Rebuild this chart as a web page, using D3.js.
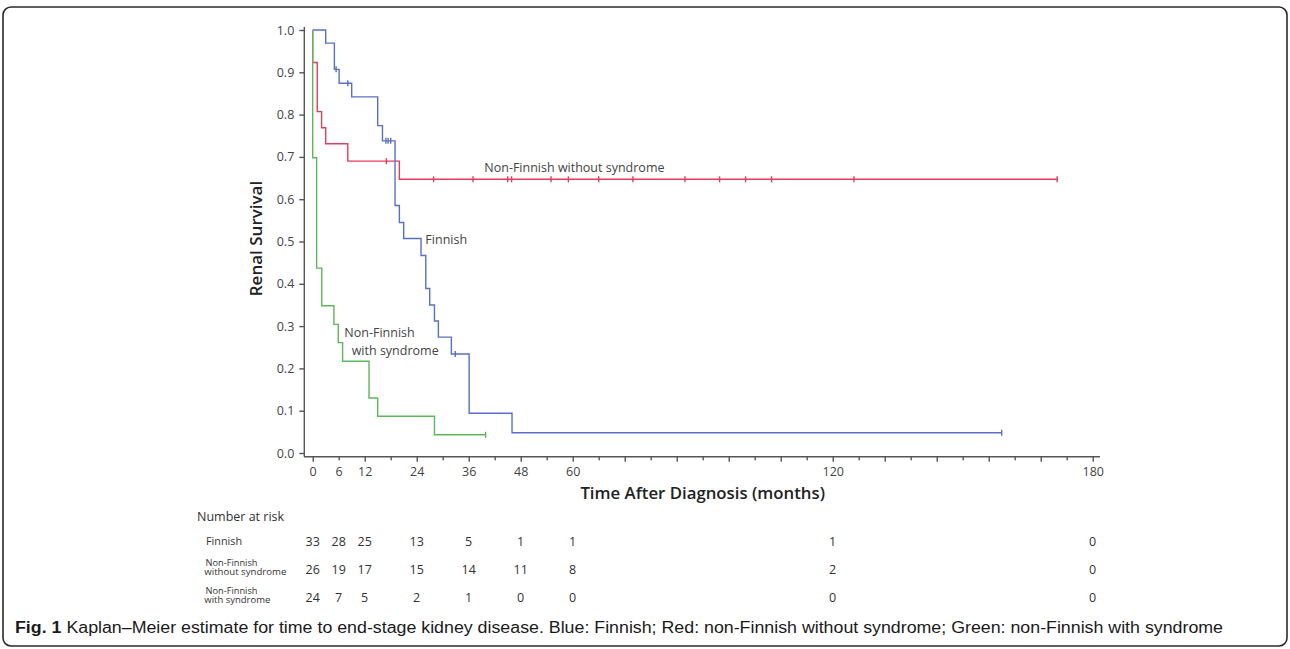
<!DOCTYPE html>
<html>
<head>
<meta charset="utf-8">
<script src="https://cdn.jsdelivr.net/npm/d3@7"></script>
<style>
  body { margin: 0; background: #fff; }
  svg { display: block; font-family: "Open Sans", sans-serif; }
</style>
</head>
<body>
<div id="chart"></div>
<script>
// ---------------------------------------------------------
// DATA
// ---------------------------------------------------------

// Finnish (blue): event times (months) and survival after each step
var finnishTimes = [3, 5, 6.1, 9, 15, 16.1, 19, 20, 21, 25, 26.1, 27, 28.1, 29, 32, 36.1, 46];
var finnishSurv = [0.969, 0.907, 0.874, 0.842, 0.774, 0.738, 0.585, 0.545, 0.507, 0.467, 0.389, 0.350, 0.312, 0.274, 0.234, 0.094, 0.048];
var finnishCensor = [5.4, 8.1, 16.9, 17.4, 18.0, 32.9, 159];
var finnishEnd = 159;

// Non-Finnish without syndrome (red)
var noSynTimes = [0, 1.05, 2.05, 3, 8.1, 20];
var noSynSurv = [0.923, 0.807, 0.769, 0.731, 0.690, 0.647];
var noSynCensor = [17, 27.9, 37, 45, 45.9, 55, 59, 66, 73.9, 85.9, 93.9, 99.9, 105.9, 124.9, 171.8];
var noSynEnd = 171.8;

// Non-Finnish with syndrome (green)
var synTimes = [0, 0.9, 2.1, 4.9, 5.9, 6.9, 13, 15, 28.1];
var synSurv = [0.698, 0.437, 0.348, 0.304, 0.261, 0.217, 0.130, 0.087, 0.043];
var synCensor = [39.9];
var synEnd = 39.9;

// axis ticks
var xTickValues = d3.range(0, 181, 6);
var xTickLabels = [0, 6, 12, 24, 36, 48, 60, 120, 180];
var yTickValues = d3.range(0, 11).map(d => d / 10);

// number at risk table
var riskTimes = [0, 6, 12, 24, 36, 48, 60, 120, 180];
var riskFinnish = [33, 28, 25, 13, 5, 1, 1, 1, 0];
var riskNoSyn = [26, 19, 17, 15, 14, 11, 8, 2, 0];
var riskSyn = [24, 7, 5, 2, 1, 0, 0, 0, 0];

// ---------------------------------------------------------
// SET UP PARAMETERS
// ---------------------------------------------------------

var svgWidth = 1290;
var svgHeight = 649;

var colors = {
  finnish: "#5a70c8",
  noSyn: "#e63a5f",
  syn: "#5cb85a"
};

var svg = d3.select("#chart")
  .append("svg")
  .attr("width", svgWidth)
  .attr("height", svgHeight);

// outer frame
svg.append("rect")
  .attr("x", 3)
  .attr("y", 7)
  .attr("width", 1284)
  .attr("height", 639)
  .attr("rx", 8)
  .attr("fill", "none")
  .attr("stroke", "#2b2b2b")
  .attr("stroke-width", 1.6);

var xScale = d3.scaleLinear().domain([0, 180]).range([312.7, 1092.7]);
var yScale = d3.scaleLinear().domain([0, 1]).range([453, 30]);

// ---------------------------------------------------------
// AXES
// ---------------------------------------------------------

var xAxis = svg.append("g")
  .attr("transform", "translate(0, 456.7)")
  .call(d3.axisBottom(xScale)
    .tickValues(xTickValues)
    .tickSize(5)
    .tickPadding(5)
    .tickFormat(d => xTickLabels.includes(d) ? d : ""));

xAxis.select(".domain").attr("d", "M304,0H1100");
xAxis.selectAll(".tick line")
  .attr("y2", d => d % 12 === 0 ? 5 : 3.5);

var yAxis = svg.append("g")
  .attr("transform", "translate(304.3, 0)")
  .call(d3.axisLeft(yScale)
    .tickValues(yTickValues)
    .tickSize(5)
    .tickPadding(5)
    .tickFormat(d3.format(".1f")));

yAxis.select(".domain").attr("d", "M0,27V456.7");

svg.selectAll(".domain, .tick line")
  .attr("stroke", "#555")
  .attr("stroke-width", 1.4);

svg.selectAll(".tick text")
  .attr("fill", "#444")
  .attr("font-size", "12.5px")
  .attr("font-family", "Open Sans, sans-serif");

// axis titles
svg.append("text")
  .attr("x", 702.7)
  .attr("y", 499)
  .attr("text-anchor", "middle")
  .attr("font-size", "16.8px")
  .attr("font-weight", 600)
  .attr("fill", "#222")
  .text("Time After Diagnosis (months)");

svg.append("text")
  .attr("transform", "translate(262, 238.5) rotate(-90)")
  .attr("text-anchor", "middle")
  .attr("font-size", "17px")
  .attr("font-weight", 600)
  .attr("fill", "#222")
  .text("Renal Survival");

// ---------------------------------------------------------
// KAPLAN-MEIER CURVES
// ---------------------------------------------------------

var stepLine = d3.line()
  .x(d => xScale(d[0]))
  .y(d => yScale(d[1]))
  .curve(d3.curveStepAfter);

function survivalAt(times, surv, t) {
  var i = d3.bisectRight(times, t);
  return i === 0 ? 1 : surv[i - 1];
}

function drawCurve(times, surv, censor, end, color) {
  var pts = [[0, 1]];
  times.forEach((t, i) => pts.push([t, surv[i]]));
  pts.push([end, surv[surv.length - 1]]);

  svg.append("path")
    .datum(pts)
    .attr("d", stepLine)
    .attr("fill", "none")
    .attr("stroke", color)
    .attr("stroke-width", 1.4);

  // censor marks
  svg.selectAll(null)
    .data(censor)
    .enter()
    .append("line")
    .attr("x1", d => xScale(d))
    .attr("x2", d => xScale(d))
    .attr("y1", d => yScale(survivalAt(times, surv, d)) - 3)
    .attr("y2", d => yScale(survivalAt(times, surv, d)) + 3)
    .attr("stroke", color)
    .attr("stroke-width", 1.4);
}

drawCurve(noSynTimes, noSynSurv, noSynCensor, noSynEnd, colors.noSyn);
drawCurve(finnishTimes, finnishSurv, finnishCensor, finnishEnd, colors.finnish);
drawCurve(synTimes, synSurv, synCensor, synEnd, colors.syn);

// curve labels
var curveLabels = [
  { text: "Non-Finnish without syndrome", t: 39.6, s: 0.664 },
  { text: "Finnish", t: 26.0, s: 0.494 },
  { text: "Non-Finnish", t: 7.3, s: 0.275 },
  { text: "with syndrome", t: 9.0, s: 0.231 }
];

svg.selectAll(null)
  .data(curveLabels)
  .enter()
  .append("text")
  .attr("x", d => xScale(d.t))
  .attr("y", d => yScale(d.s))
  .attr("font-size", "12.5px")
  .attr("fill", "#444")
  .text(d => d.text);

// ---------------------------------------------------------
// NUMBER AT RISK TABLE
// ---------------------------------------------------------

svg.append("text")
  .attr("x", 197)
  .attr("y", 521)
  .attr("font-size", "12.5px")
  .attr("fill", "#333")
  .text("Number at risk");

var riskRows = [
  { lines: ["Finnish"], values: riskFinnish, y: 541 },
  { lines: ["Non-Finnish", "without syndrome"], values: riskNoSyn, y: 569 },
  { lines: ["Non-Finnish", "with syndrome"], values: riskSyn, y: 597 }
];

riskRows.forEach(function(row) {
  if (row.lines.length === 1) {
    svg.append("text")
      .attr("x", 206)
      .attr("y", row.y + 4)
      .attr("font-size", "10.8px")
      .attr("fill", "#333")
      .text(row.lines[0]);
  }
  else {
    // two-line label kept in one text element
    var label = svg.append("text")
      .attr("font-size", "9.3px")
      .attr("fill", "#333");
    row.lines.forEach(function(line, i) {
      label.append("tspan")
        .attr("x", i === 0 ? 205.5 : 204.3)
        .attr("y", row.y - 3 + i * 9)
        .attr("textLength", i === 0 ? 52 : (line.length > 13 ? 82 : 66))
        .attr("lengthAdjust", "spacingAndGlyphs")
        .text(line);
    });
  }

  svg.selectAll(null)
    .data(row.values)
    .enter()
    .append("text")
    .attr("x", (d, i) => xScale(riskTimes[i]))
    .attr("y", row.y + 4.5)
    .attr("text-anchor", "middle")
    .attr("font-size", "12.5px")
    .attr("fill", "#333")
    .text(d => d);
});

// ---------------------------------------------------------
// CAPTION
// ---------------------------------------------------------

var caption = svg.append("text")
  .attr("x", 15)
  .attr("y", 633)
  .attr("font-size", "16px")
  .attr("font-family", "Liberation Sans, sans-serif")
  .attr("fill", "#1a1a1a")
  .attr("textLength", 1208)
  .attr("lengthAdjust", "spacingAndGlyphs");

caption.append("tspan")
  .attr("font-weight", "bold")
  .text("Fig. 1");

caption.append("tspan")
  .text(" Kaplan\u2013Meier estimate for time to end-stage kidney disease. Blue: Finnish; Red: non-Finnish without syndrome; Green: non-Finnish with syndrome");
</script>
</body>
</html>
